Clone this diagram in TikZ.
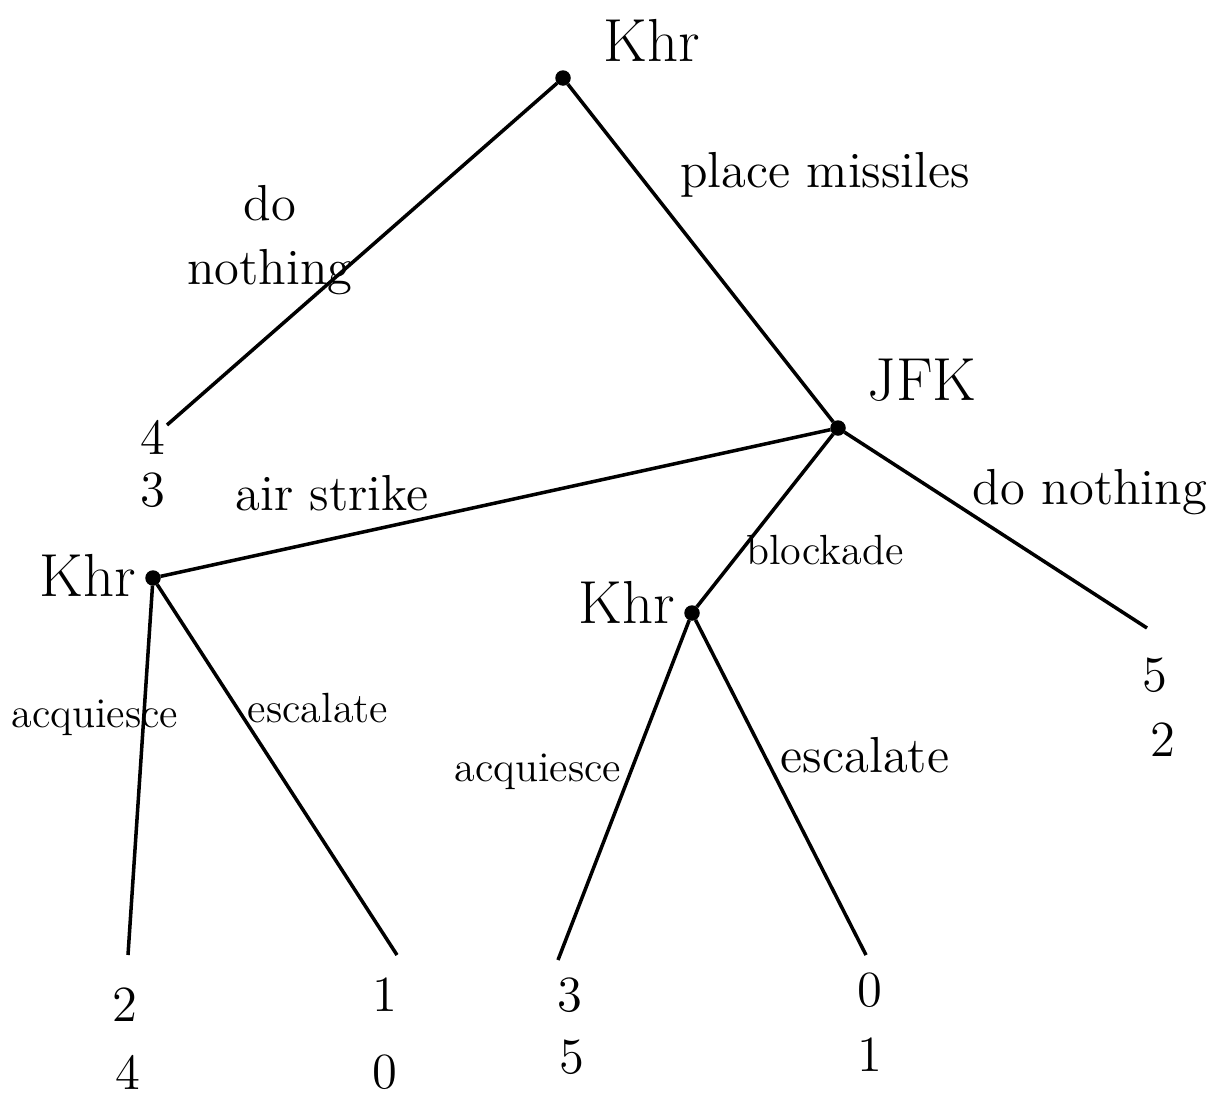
\documentclass[tikz,border=0pt]{standalone}
\usepackage{tikz}
\usetikzlibrary{positioning}
\tikzset{
  move/.style={draw, circle, fill, inner sep=0pt, minimum size=4pt},
  branch/.style={line width=1pt},
  player/.style={font=\LARGE},
  act/.style={font=\Large, inner sep=1pt},
  smallact/.style={font=\large, inner sep=1pt},
  pay/.style={font=\Large, inner sep=0pt},
}
\begin{document}
\begin{tikzpicture}[x=0.01cm,y=-0.01cm]
  \useasboundingbox (0,0) rectangle (1218,1112);
  % decision nodes
  \node[move] (root) at (563,78) {};
  \node[move] (jfk) at (838,428) {};
  \node[move] (khrA) at (153,578) {};
  \node[move] (khrB) at (692,613) {};
  \node[player] (nroot) at (652,40) {Khr};
  \node[player] (njfk) at (922,380) {JFK};
  \node[player] (nkhrA) at (88,575) {Khr};
  \node[player] (nkhrB) at (627,602) {Khr};
  % end points
  \coordinate (t1) at (167,425);
  \coordinate (t2) at (1147,628);
  \coordinate (t3) at (128,955);
  \coordinate (t4) at (397,955);
  \coordinate (t5) at (558,960);
  \coordinate (t6) at (866,955);
  % branches
  \draw[branch] (root) -- (t1);
  \draw[branch] (root) -- (jfk);
  \draw[branch] (jfk) -- (khrA);
  \draw[branch] (jfk) -- (khrB);
  \draw[branch] (jfk) -- (t2);
  \draw[branch] (khrA) -- (t3);
  \draw[branch] (khrA) -- (t4);
  \draw[branch] (khrB) -- (t5);
  \draw[branch] (khrB) -- (t6);
  % actions
  \node[act, align=center] (a1) at (270,240) {do\\nothing};
  \node[act] (a2) at (825,175) {place missiles};
  \node[act] (a3) at (332,493) {air strike};
  \node[smallact] (a4) at (825,550) {blockade};
  \node[act] (a5) at (1090,492) {do nothing};
  \node[smallact] (a6) at (95,718) {acquiesce};
  \node[smallact] (a7) at (318,708) {escalate};
  \node[smallact] (a8) at (538,772) {acquiesce};
  \node[act] (a9) at (865,755) {escalate};
  % payoffs
  \node[pay] (p1a) at (153,437) {4};
  \node[pay] (p1b) at (153,490) {3};
  \node[pay] (p2a) at (1155,675) {5};
  \node[pay] (p2b) at (1163,740) {2};
  \node[pay] (p3a) at (125,1005) {2};
  \node[pay] (p3b) at (128,1072) {4};
  \node[pay] (p4a) at (385,995) {1};
  \node[pay] (p4b) at (385,1072) {0};
  \node[pay] (p5a) at (570,995) {3};
  \node[pay] (p5b) at (572,1057) {5};
  \node[pay] (p6a) at (870,990) {0};
  \node[pay] (p6b) at (870,1055) {1};
\end{tikzpicture}
\end{document}
